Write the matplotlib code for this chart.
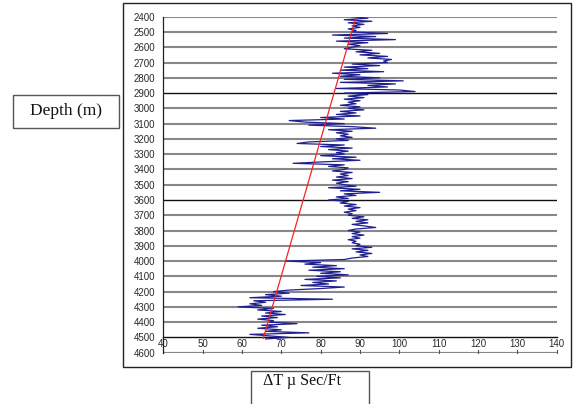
import matplotlib
matplotlib.use("Agg")
import matplotlib.pyplot as plt
from matplotlib.patches import Rectangle

# ---------------- data ----------------
depth = list(range(2400, 4520, 10))
dt = [
    88, 92, 86, 93, 87, 91, 88, 90, 87, 89,
    88, 97, 83, 94, 86, 99, 84, 92, 87, 90,
    88, 86, 93, 89, 95, 90, 97, 92, 98, 96,
    97, 88, 95, 86, 92, 85, 96, 83, 90, 85,
    95, 86, 101, 85, 99, 92, 97, 84, 100, 104,
    86, 92, 87, 91, 86, 90, 87, 89, 85, 90,
    87, 91, 85, 89, 84, 90, 80, 86, 72, 76,
    86, 77, 88, 94, 82, 88, 84, 87, 85, 88,
    84, 87, 77, 74, 86, 80, 88, 82, 87, 84,
    86, 80, 89, 83, 90, 81, 73, 86, 82, 87,
    86, 83, 88, 85, 87, 84, 88, 83, 87, 84,
    86, 89, 82, 90, 85, 95, 86, 89, 84, 87,
    82, 87, 85, 89, 86, 90, 87, 89, 86, 88,
    87, 91, 88, 92, 89, 92, 88, 91, 94, 89,
    87, 90, 88, 91, 88, 90, 87, 89, 88, 90,
    89, 93, 88, 92, 89, 93, 90, 92, 88, 86,
    71, 80, 76, 84, 78, 86, 77, 85, 80, 87,
    79, 85, 76, 84, 78, 82, 75, 86, 80, 72,
    68, 72, 66, 70, 62, 83, 63, 66, 62, 65,
    59, 68, 64, 70, 66, 71, 65, 69, 64, 68,
    67, 74, 65, 69, 64, 70, 66, 77, 62, 67, 72, 66,
]
trend_depth = [2400, 4507]
trend_dt = [89.0, 65.4]

x_ticks = [40, 50, 60, 70, 80, 90, 100, 110, 120, 130, 140]
y_ticks = list(range(2400, 4700, 100))
dark_lines = [2900, 3600]

# ---------------- figure ----------------
W, H = 573, 404
fig = plt.figure(figsize=(W / 100, H / 100), dpi=100)
fig.patch.set_facecolor("white")

# outer frame
fig.add_artist(Rectangle((123 / W, 1 - 367 / H), (571 - 123) / W, (367 - 3) / H,
                         transform=fig.transFigure, fill=False,
                         edgecolor="#222222", lw=1.0))

ax = fig.add_axes([163.3 / W, 1 - 352.7 / H, (556.7 - 163.3) / W, (352.7 - 16.7) / H])
ax.set_xlim(40, 140)
ax.set_ylim(4600, 2400)

for yv in y_ticks:
    if yv in dark_lines:
        ax.axhline(yv, color="#111111", lw=1.0, zorder=1)
    elif yv != 4500:
        ax.axhline(yv, color="#888888", lw=1.5, zorder=1)

ax.plot(dt, depth, color="#1f1f8f", lw=0.9, zorder=3)
ax.plot(trend_dt, trend_depth, color="#ff2020", lw=0.9, zorder=4)

for s in ["top", "right"]:
    ax.spines[s].set_visible(False)
ax.spines["left"].set_color("#222222")
ax.spines["left"].set_linewidth(0.9)
ax.spines["bottom"].set_position(("data", 4500))
ax.spines["bottom"].set_color("#111111")
ax.spines["bottom"].set_linewidth(1.0)

ax.set_xticks(x_ticks)
ax.set_yticks(y_ticks)
ax.tick_params(axis="y", length=0, pad=6, labelsize=7, labelcolor="#2a2a2a")
ax.tick_params(axis="x", length=0, pad=1, labelsize=7, labelcolor="#2a2a2a")
for lab in ax.get_xticklabels() + ax.get_yticklabels():
    lab.set_family("Liberation Sans")

# small ticks on the 4600 baseline
ax.axhline(4600, color="#888888", lw=1.5, zorder=1)
for xv in x_ticks:
    ax.plot([xv, xv], [4600, 4585], color="#555555", lw=0.8, clip_on=False, zorder=2)

# label boxes
fig.add_artist(Rectangle((13 / W, 1 - 127.5 / H), (119 - 13) / W, (127.5 - 95) / H,
                         transform=fig.transFigure, fill=False, edgecolor="#555555", lw=1.0))
fig.text(66 / W, 1 - 111 / H, "Depth (m)", ha="center", va="center",
         family="Liberation Serif", fontsize=12.5, color="#111111")

fig.add_artist(Rectangle((251 / W, 1 - 410 / H), (369 - 251) / W, (410 - 371) / H,
                         transform=fig.transFigure, fill=False, edgecolor="#555555",
                         lw=1.0, clip_on=False))
fig.text(302 / W, 1 - 381 / H, "\u0394T \u00b5 Sec/Ft", ha="center", va="center",
         family="Liberation Serif", fontsize=11.5, color="#111111")

fig.savefig("out.png", dpi=100)
